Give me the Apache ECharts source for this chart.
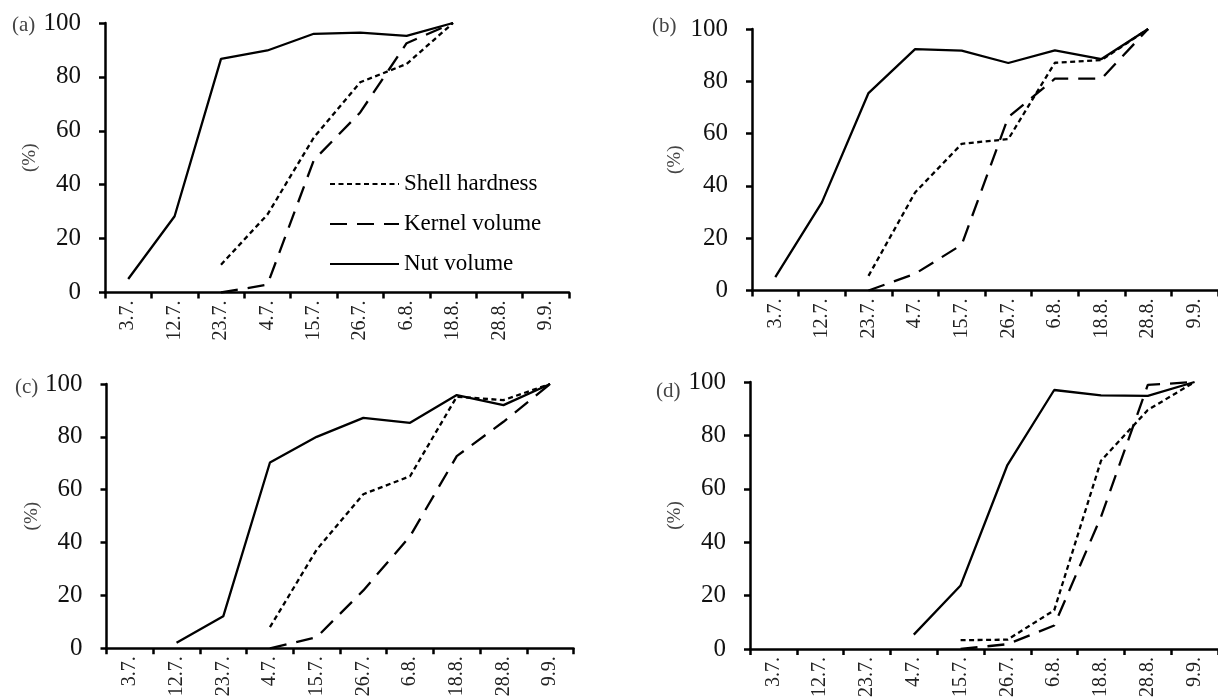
<!DOCTYPE html>
<html>
<head>
<meta charset="utf-8">
<script src="https://cdn.jsdelivr.net/npm/echarts@6/dist/echarts.min.js"></script>
<style>
  html, body { margin: 0; padding: 0; background: #fff; }
  #main { width: 1218px; height: 700px; }
</style>
</head>
<body>
<div id="main"></div>
<script>
// x categories (sampling dates)
const dates = ['3.7.', '12.7.', '23.7.', '4.7.', '15.7.', '26.7.', '6.8.', '18.8.', '28.8.', '9.9.'];
const yTicks = [0, 20, 40, 60, 80, 100];
const panelNames = ['(a)', '(b)', '(c)', '(d)'];
const seriesNames = ['Shell hardness', 'Kernel volume', 'Nut volume'];

// (a)
const shellA = [null, null, 10.3, 28.9, 57.5, 78, 84.8, 100, null, null];
const kernelA = [null, null, 0, 2.9, 49.1, 66.8, 92.5, 100, null, null];
const nutA = [5, 28.3, 86.7, 89.8, 96, 96.4, 95.2, 100, null, null];
// (b)
const shellB = [null, null, 5.6, 37.5, 56.1, 57.9, 87.1, 88.1, 100, null];
const kernelB = [null, null, 0, 6.4, 17.5, 66.3, 81, 81, 100, null];
const nutB = [5.1, 33.7, 75.5, 92.3, 91.7, 87, 91.8, 88.5, 100, null];
// (c)
const shellC = [null, null, null, 8, 37.3, 58.3, 65.1, 95.2, 93.9, 100];
const kernelC = [null, null, null, 0, 4.2, 21.9, 42.4, 72.7, 85.7, 100];
const nutC = [null, 2.1, 12.1, 70.3, 80, 87.2, 85.3, 95.8, 92, 100];
// (d)
const shellD = [null, null, null, null, 3.3, 3.5, 14.5, 70.5, 89.5, 100];
const kernelD = [null, null, null, null, 0, 1.8, 8.8, 49.5, 98.9, 100];
const nutD = [null, null, null, 5.4, 23.8, 68.9, 97, 95, 94.8, 100];

const panelData = [
  [shellA, kernelA, nutA],
  [shellB, kernelB, nutB],
  [shellC, kernelC, nutC],
  [shellD, kernelD, nutD]
];

const font = 'Liberation Serif';
const grids = [
  { left: 105, top: 23, width: 464, height: 269.5 },
  { left: 752, top: 29, width: 474, height: 261.5 },
  { left: 106.5, top: 384, width: 467, height: 264.3 },
  { left: 750, top: 382, width: 468, height: 267 }
];
const nameGaps = [60, 67, 58, 63];
const titlePos = [
  { left: 12, top: 15 },
  { left: 652, top: 16 },
  { left: 15, top: 377 },
  { left: 656, top: 381 }
];
const dashTypes = [[5, 3.5], [17, 10], 'solid'];

const chart = echarts.init(document.getElementById('main'));

let xAxis = [], yAxis = [], series = [], title = [];
grids.forEach((g, i) => {
  xAxis.push({
    type: 'category',
    gridIndex: i,
    data: dates,
    boundaryGap: true,
    axisLine: { lineStyle: { color: '#000', width: 2.5 } },
    axisTick: { show: true, length: 6, lineStyle: { color: '#000', width: 2.5 } },
    axisLabel: {
      rotate: 90, margin: 8, interval: 0,
      fontFamily: font, fontSize: 20, color: '#222'
    },
    splitLine: { show: false }
  });
  yAxis.push({
    type: 'value',
    gridIndex: i,
    min: yTicks[0],
    max: yTicks[yTicks.length - 1],
    interval: 20,
    name: '(%)',
    nameLocation: 'middle',
    nameRotate: 90,
    nameGap: nameGaps[i],
    nameTextStyle: { fontFamily: font, fontSize: 19, color: '#444' },
    axisLine: { show: true, lineStyle: { color: '#000', width: 2.5 } },
    axisTick: { show: true, length: 6, lineStyle: { color: '#000', width: 2.5 } },
    axisLabel: { margin: 24, fontFamily: font, fontSize: 25, color: '#111' },
    splitLine: { show: false }
  });
  title.push({
    text: panelNames[i],
    left: titlePos[i].left,
    top: titlePos[i].top,
    padding: 0,
    textStyle: { fontFamily: font, fontSize: 21, fontWeight: 'normal', color: '#444' }
  });
  // draw order: nut, kernel, shell
  [2, 1, 0].forEach(k => {
    series.push({
      name: seriesNames[k],
      type: 'line',
      xAxisIndex: i,
      yAxisIndex: i,
      data: panelData[i][k],
      symbol: 'none',
      connectNulls: false,
      lineStyle: { color: '#000', width: 2.3, type: dashTypes[k] },
      itemStyle: { color: '#000' }
    });
  });
});

chart.setOption({
  animation: false,
  backgroundColor: '#fff',
  title: title,
  grid: grids,
  xAxis: xAxis,
  yAxis: yAxis,
  legend: {
    data: seriesNames,
    orient: 'vertical',
    left: 329,
    top: 172,
    itemWidth: 69,
    itemHeight: 14,
    itemGap: 16,
    padding: 0,
    itemStyle: { opacity: 0 },
    textStyle: { fontFamily: font, fontSize: 23, color: '#000', lineHeight: 24 }
  },
  series: series
});
</script>
</body>
</html>
